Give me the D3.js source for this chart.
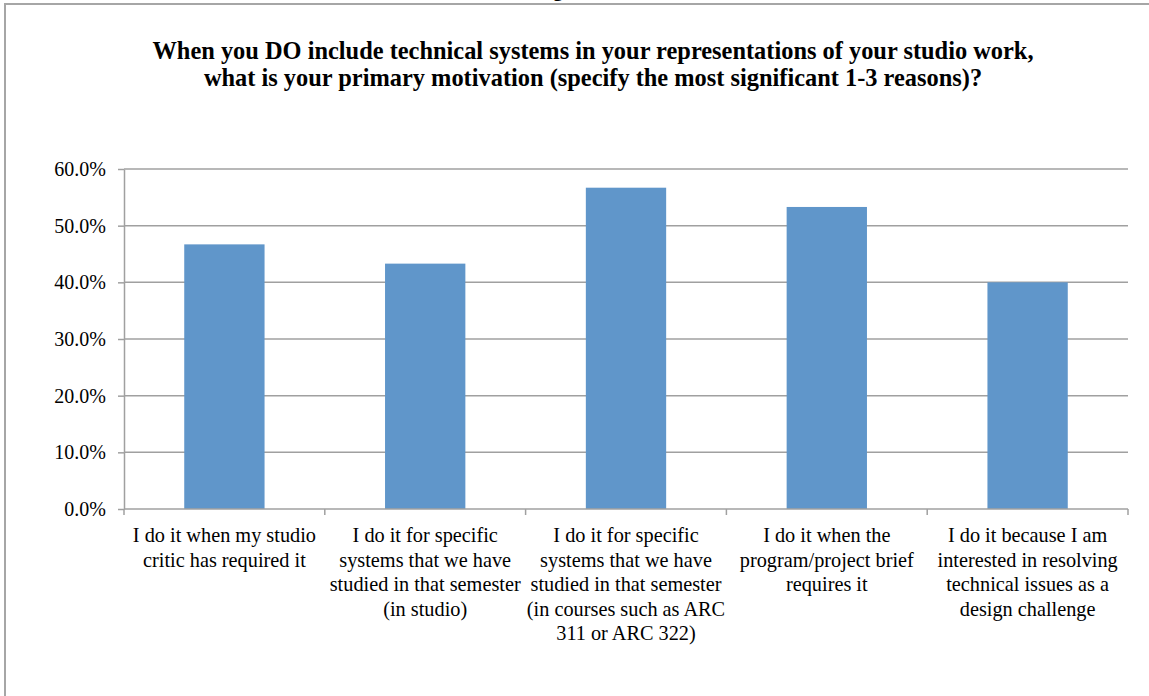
<!DOCTYPE html>
<html>
<head>
<meta charset="utf-8">
<script src="https://cdn.jsdelivr.net/npm/d3@7"></script>
<style>
  body { margin: 0; background: #fff; }
  svg { display: block; font-family: "Liberation Serif", "Times New Roman", serif; }
</style>
</head>
<body>
<svg id="chart" width="1149" height="696"></svg>
<script>
// data
const categories = [
    ["I do it when my studio", "critic has required it"],
    ["I do it for specific", "systems that we have", "studied in that semester", "(in studio)"],
    ["I do it for specific", "systems that we have", "studied in that semester", "(in courses such as ARC", "311 or ARC 322)"],
    ["I do it when the", "program/project brief", "requires it"],
    ["I do it because I am", "interested in resolving", "technical issues as a", "design challenge"]
];
const values = [0.467, 0.433, 0.567, 0.533, 0.400];
const yTicks = [0, 0.1, 0.2, 0.3, 0.4, 0.5, 0.6];
const titleLines = [
    "When you DO include technical systems in your representations of your studio work,",
    "what is your primary motivation (specify the most significant 1-3 reasons)?"
];

const svg = d3.select('#chart');
const margin = {left: 124, right: 1128, top: 169, bottom: 509};

// outer frame (runs past right/bottom edge like the screenshot)
svg.append('rect')
    .attr('x', 5).attr('y', 4)
    .attr('width', 1160).attr('height', 720)
    .attr('fill', '#fff')
    .attr('stroke', '#a6a6a6')
    .attr('stroke-width', 2);

// bit of text from above the frame, only its descender shows
svg.append('text')
    .attr('x', 558).attr('y', -4)
    .attr('text-anchor', 'middle')
    .style('font-size', '20px')
    .style('font-weight', 'bold')
    .text('g');

const x = d3.scaleBand()
    .domain(d3.range(values.length))
    .range([margin.left, margin.right])
    .paddingInner(0.6)
    .paddingOuter(0.3);

const y = d3.scaleLinear()
    .domain([0, 0.6])
    .range([margin.bottom, margin.top]);

// title
svg.append('g').selectAll('text')
    .data(titleLines)
    .enter()
    .append('text')
    .attr('x', 593)
    .attr('y', (d, i) => 59 + i * 26.5)
    .attr('text-anchor', 'middle')
    .style('font-size', '24.4px')
    .style('font-weight', 'bold')
    .text(d => d);

// gridlines
svg.append('g').selectAll('line')
    .data(yTicks.slice(1))
    .enter()
    .append('line')
    .attr('x1', margin.left).attr('x2', margin.right)
    .attr('y1', d => y(d)).attr('y2', d => y(d))
    .attr('stroke', '#a0a0a0')
    .attr('stroke-width', 1.5);

// bars
svg.append('g').selectAll('rect')
    .data(values)
    .enter()
    .append('rect')
    .attr('x', (d, i) => x(i))
    .attr('y', d => y(d))
    .attr('width', x.bandwidth())
    .attr('height', d => y(0) - y(d))
    .attr('fill', '#6096ca');

// y axis
const yAxis = svg.append('g')
    .attr('transform', `translate(${margin.left},0)`)
    .call(d3.axisLeft(y).tickValues(yTicks).tickFormat(d3.format('.1%')).tickSize(6).tickSizeOuter(0));
yAxis.select('.domain').attr('stroke', '#a0a0a0').attr('stroke-width', 1.5);
yAxis.selectAll('.tick line').attr('stroke', '#a0a0a0').attr('stroke-width', 1.5);
yAxis.selectAll('.tick text')
    .attr('x', -18)
    .attr('fill', '#000')
    .style('font-size', '20px')
    .style('font-family', '"Liberation Serif", serif');

// x axis baseline, ticks sit between categories
const tickX = i => margin.left + i * x.step();
const xg = svg.append('g');
xg.append('line')
    .attr('x1', margin.left).attr('x2', margin.right)
    .attr('y1', y(0)).attr('y2', y(0))
    .attr('stroke', '#a0a0a0').attr('stroke-width', 1.5);
xg.selectAll('line.tk')
    .data(d3.range(values.length + 1))
    .enter()
    .append('line')
    .attr('class', 'tk')
    .attr('x1', tickX)
    .attr('x2', tickX)
    .attr('y1', y(0)).attr('y2', y(0) + 6)
    .attr('stroke', '#a0a0a0').attr('stroke-width', 1.5);

// category labels
const labels = svg.append('g').selectAll('text')
    .data(categories)
    .enter()
    .append('text')
    .attr('text-anchor', 'middle')
    .style('font-size', '20.3px')
    .attr('transform', (d, i) => `translate(${x(i) + x.bandwidth() / 2},${y(0) + 33})`);
labels.selectAll('tspan')
    .data(d => d)
    .enter()
    .append('tspan')
    .attr('x', 0)
    .attr('y', (d, i) => i * 24.6)
    .text(d => d);
</script>
</body>
</html>
